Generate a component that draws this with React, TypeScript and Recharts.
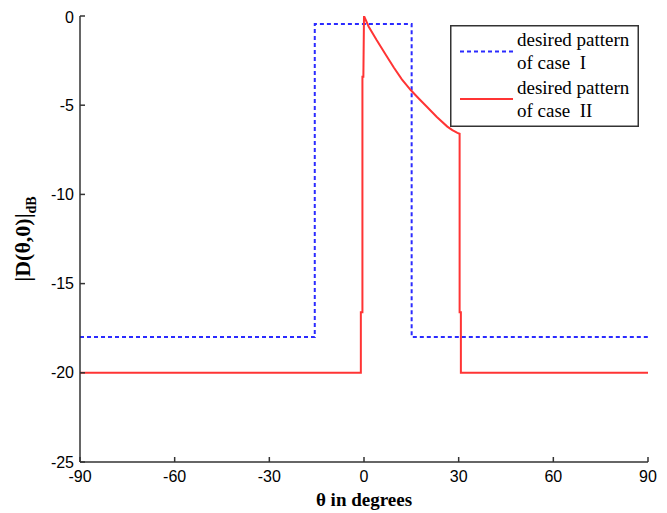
import React from 'react';
import { LineChart, Line, XAxis, YAxis, Legend, Label } from 'recharts';

const xTicks = [-90, -60, -30, 0, 30, 60, 90];
const yTicks = [-25, -20, -15, -10, -5, 0];

const case1Theta = [-90, -15.6, -15.6, 15.1, 15.1, 90];
const case1Gain = [-18, -18, -0.45, -0.45, -18, -18];

const case2Theta = [-90, -1, -1, -0.5, -0.5, -0.2, 0, 1.5, 4, 7, 9.5, 12, 14.8, 17.5, 20, 23, 26.4, 28, 29.6, 30.3, 30.3, 30.7, 30.7, 90];
const case2Gain = [-20, -20, -16.6, -16.6, -3.4, -3.4, 0, -0.6, -1.35, -2.2, -2.9, -3.55, -4.15, -4.65, -5.1, -5.65, -6.2, -6.4, -6.55, -6.6, -16.6, -16.6, -20, -20];

const legendLabels = [
  ['desired pattern', 'of case  I'],
  ['desired pattern', 'of case  II'],
];

const case1 = case1Theta.map((x, i) => ({ x, y: case1Gain[i] }));
const case2 = case2Theta.map((x, i) => ({ x, y: case2Gain[i] }));

const BLUE = '#2b2bff';
const RED = '#ff3434';
const AXIS = '#333333';
const tickFont = { fontFamily: '"Liberation Sans", Arial, sans-serif', fontSize: 16, fill: '#000' };
const serif = '"Liberation Serif", "Times New Roman", serif';

const renderLegend = () => (
  <svg width={189} height={102} style={{ display: 'block' }}>
    <rect x={0.75} y={0.75} width={187.5} height={100.5} fill="#fff" stroke={AXIS} strokeWidth={1.5} />
    <line x1={10} x2={63} y1={26.5} y2={26.5} stroke={BLUE} strokeWidth={2} strokeDasharray="4 3" />
    <line x1={10} x2={63} y1={74} y2={74} stroke={RED} strokeWidth={2} />
    <text x={67} y={21} fontFamily={serif} fontSize={19} fill="#000" style={{ whiteSpace: 'pre' }}>{legendLabels[0][0]}</text>
    <text x={67} y={44} fontFamily={serif} fontSize={19} fill="#000" style={{ whiteSpace: 'pre' }}>{legendLabels[0][1]}</text>
    <text x={67} y={69} fontFamily={serif} fontSize={19} fill="#000" style={{ whiteSpace: 'pre' }}>{legendLabels[1][0]}</text>
    <text x={67} y={92} fontFamily={serif} fontSize={19} fill="#000" style={{ whiteSpace: 'pre' }}>{legendLabels[1][1]}</text>
  </svg>
);

const YLabel = (props: any) => {
  const vb = props.viewBox || {};
  const cx = 22;
  const cy = vb.y + vb.height / 2;
  return (
    <text
      x={cx}
      y={cy}
      transform={`rotate(-90, ${cx}, ${cy})`}
      textAnchor="middle"
      fontFamily={serif}
      fontWeight="bold"
      fontSize={22}
      fill="#000"
    >
      |D(θ,0)|<tspan fontSize={14} dy={6}>dB</tspan>
    </text>
  );
};

const XLabel = (props: any) => {
  const vb = props.viewBox || {};
  const cx = vb.x + vb.width / 2;
  return (
    <text
      x={cx}
      y={498}
      textAnchor="middle"
      fontFamily={serif}
      fontWeight="bold"
      fontSize={19}
      fill="#000"
    >
      θ in degrees
    </text>
  );
};

export default function App() {
  return (
    <div style={{ width: 659, height: 505, position: 'relative' }}>
      <LineChart
        width={659}
        height={505}
        margin={{ top: 8, right: 19, bottom: 0, left: 0 }}
      >
        <XAxis
          xAxisId="b"
          type="number"
          dataKey="x"
          domain={[-90, 90]}
          ticks={xTicks}
          allowDataOverflow
          height={51}
          tickSize={-5}
          tickMargin={14}
          tick={tickFont}
          stroke={AXIS}
          axisLine={{ stroke: AXIS, strokeWidth: 1.5 }}
          tickLine={{ stroke: AXIS, strokeWidth: 1.5 }}
        >
          <Label content={XLabel} />
        </XAxis>
        <XAxis
          xAxisId="t"
          orientation="top"
          type="number"
          dataKey="x"
          domain={[-90, 90]}
          ticks={xTicks}
          allowDataOverflow
          height={0}
          tickSize={-5}
          tick={false}
          axisLine={{ stroke: AXIS, strokeWidth: 1.5 }}
          tickLine={{ stroke: AXIS, strokeWidth: 1.5 }}
        />
        <YAxis
          yAxisId="l"
          type="number"
          domain={[-25, 0]}
          ticks={yTicks}
          allowDataOverflow
          width={72}
          tickSize={-5}
          tickMargin={11}
          tick={tickFont}
          axisLine={{ stroke: AXIS, strokeWidth: 1.5 }}
          tickLine={{ stroke: AXIS, strokeWidth: 1.5 }}
        >
          <Label content={YLabel} />
        </YAxis>
        <YAxis
          yAxisId="r"
          orientation="right"
          type="number"
          domain={[-25, 0]}
          ticks={yTicks}
          allowDataOverflow
          width={0}
          tickSize={-5}
          tick={false}
          axisLine={{ stroke: AXIS, strokeWidth: 1.5 }}
          tickLine={{ stroke: AXIS, strokeWidth: 1.5 }}
        />
        <Line
          xAxisId="b"
          yAxisId="l"
          data={case1}
          dataKey="y"
          name="desired pattern of case I"
          type="linear"
          stroke={BLUE}
          strokeWidth={2}
          strokeDasharray="4 3"
          dot={false}
          activeDot={false}
          isAnimationActive={false}
        />
        <Line
          xAxisId="b"
          yAxisId="l"
          data={case2}
          dataKey="y"
          name="desired pattern of case II"
          type="linear"
          stroke={RED}
          strokeWidth={2}
          dot={false}
          activeDot={false}
          isAnimationActive={false}
        />
        <Legend
          layout="horizontal"
          verticalAlign="middle"
          align="center"
          content={renderLegend}
          wrapperStyle={{ position: 'absolute', left: 442, top: 17, width: 189, height: 102 }}
        />
      </LineChart>
    </div>
  );
}
